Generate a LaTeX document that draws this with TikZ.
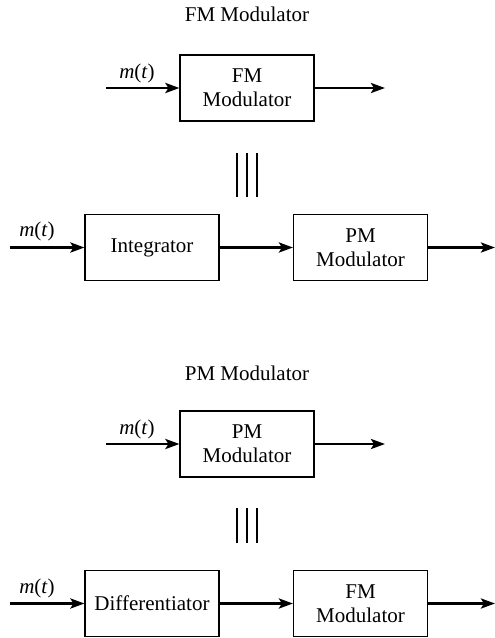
\documentclass[tikz,border=0pt]{standalone}
\usepackage{fontspec}
\setmainfont{Liberation Serif}
\usetikzlibrary{arrows.meta}
\newcommand{\mtsig}{\textit{m}(\textit{t})}
\begin{document}
\begin{tikzpicture}[x=1pt,y=1pt,
  txt/.style={font=\fontsize{21}{24}\selectfont, inner sep=0pt},
  blk/.style={draw, line width=1.1pt, minimum width=134pt, minimum height=66pt, align=center, font=\fontsize{21}{24}\selectfont, inner sep=0pt},
  sig/.style={line width=2.8pt, -{Stealth[length=14pt,width=10pt,inset=3pt]}},
  eqv/.style={line width=1.6pt}]
\useasboundingbox (0,0) rectangle (495,-638);

% ---- FM modulator section
\node[txt] (t1) at (247,-14) {FM Modulator};
\node[blk] (b1) at (247,-88) {FM\\Modulator};
\coordinate (in1) at (106,-88);
\coordinate (out1) at (385,-88);
\draw[sig] (in1) -- (b1.west);
\draw[sig] (b1.east) -- (out1);
\node[txt] (m1) at (137,-73) {\mtsig};

\draw[eqv] (237,-153) -- (237,-197);
\draw[eqv] (247,-153) -- (247,-197);
\draw[eqv] (257,-153) -- (257,-197);

\node[blk] (b2) at (152,-247.5) {Integrator};
\node[blk] (b3) at (360.5,-247.5) {PM\\Modulator};
\coordinate (in2) at (10,-247.5);
\coordinate (out2) at (495,-247.5);
\draw[sig] (in2) -- (b2.west);
\draw[sig] (b2.east) -- (b3.west);
\draw[sig] (b3.east) -- (out2);
\node[txt] (m2) at (37,-231) {\mtsig};

% ---- PM modulator section
\node[txt] (t2) at (247,-373) {PM Modulator};
\node[blk] (b4) at (247,-444) {PM\\Modulator};
\coordinate (in4) at (106,-444);
\coordinate (out4) at (385,-444);
\draw[sig] (in4) -- (b4.west);
\draw[sig] (b4.east) -- (out4);
\node[txt] (m4) at (137,-429) {\mtsig};

\draw[eqv] (237,-508) -- (237,-543);
\draw[eqv] (247,-508) -- (247,-543);
\draw[eqv] (257,-508) -- (257,-543);

\node[blk] (b5) at (152,-603.5) {Differentiator};
\node[blk] (b6) at (360.5,-603.5) {FM\\Modulator};
\coordinate (in5) at (10,-603.5);
\coordinate (out6) at (495,-603.5);
\draw[sig] (in5) -- (b5.west);
\draw[sig] (b5.east) -- (b6.west);
\draw[sig] (b6.east) -- (out6);
\node[txt] (m5) at (37,-588) {\mtsig};
\end{tikzpicture}
\end{document}
